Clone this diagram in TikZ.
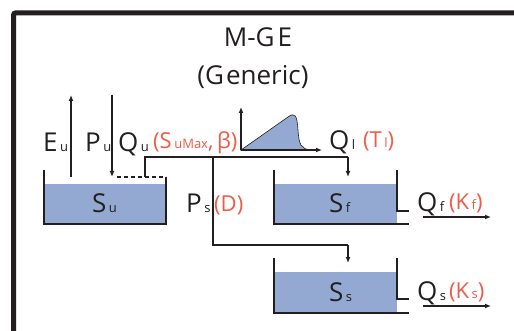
\documentclass[tikz,border=0pt]{standalone}
\usepackage{fontspec}
\setmainfont{Open Sans}
\usepackage{xcolor}
\usetikzlibrary{arrows.meta}
\definecolor{ink}  {HTML}{231F20}
\definecolor{water}{HTML}{93A9D2}
\definecolor{param}{HTML}{F05A46}
\newcommand{\bigsz}{\fontsize{26}{30}\selectfont}
\newcommand{\parsz}{\fontsize{22}{26}\selectfont}
\newcommand{\subsz}{\fontsize{13}{15}\selectfont}
\newcommand{\flux}[2]{#1\hspace{2.5pt}{\subsz #2}}

\begin{document}
\begin{tikzpicture}[
  x=1pt, y=-1pt,
  lab/.style={font=\bigsz, text=ink, anchor=base west, inner sep=0pt},
  prm/.style={font=\parsz, text=param, anchor=base west, inner sep=0pt},
  wall/.style={draw=ink, line width=1.6pt},
  pool/.style={fill=water},
  >={Latex[length=6pt,width=5pt]},
  arr/.style={->, draw=ink, line width=1.5pt},
  pipe/.style={draw=ink, line width=1.6pt}
]
\useasboundingbox (0,0) rectangle (514,331);
\draw[ink, line width=5pt, rounded corners=2pt] (13.5,345) -- (13.5,13) -- (530,13);

\node[font=\bigsz, text=ink] (title) at (258,37) {M-G\hspace{3pt}E};
\node[font=\bigsz, text=ink] (sub) at (253,77) {(G\hspace{2pt}eneric)};

\fill[pool] (44,184) rectangle (166,224);
\draw[wall] (44,170) -- (44,224) -- (166,224) -- (166,177);
\draw[wall, dashed, dash pattern=on 4pt off 3pt] (117,177) -- (166,177);
\coordinate (su-in) at (112,177);
\coordinate (su-ev) at (71,177);
\coordinate (su-out) at (145,177);

\fill[pool] (274,184) rectangle (397,224);
\draw[wall] (274,170) -- (274,224) -- (409,224);
\draw[wall] (397,170) -- (397,211) -- (409,211);
\coordinate (sf-in) at (348,177);

\fill[pool] (274,272) rectangle (397,313);
\draw[wall] (274,258) -- (274,313) -- (409,313);
\draw[wall] (397,258) -- (397,299) -- (409,299);
\coordinate (ss-in) at (348,263);

\coordinate (eu-top) at (71,95);
\coordinate (pu-top) at (112,95);
\coordinate (qu-bend) at (145,157);
\coordinate (ps-split) at (213,157);
\coordinate (qf-bend) at (348,157);
\coordinate (ps-bend) at (213,245);
\coordinate (qs-bend) at (348,245);

\coordinate (hy-o) at (241,150);
\fill[pool, draw=ink, line width=0.6pt] (hy-o) -- (288,117)
   .. controls (295,112) and (297,115) .. (298,130)
   .. controls (299,145) and (301,149) .. (311,150) -- cycle;
\draw[arr] (hy-o) -- (241,107);
\draw[arr] (hy-o) -- (322,150);

\draw[arr] (su-ev) -- (eu-top);
\draw[arr] (pu-top) -- (su-in);
\draw[pipe] (su-out) -- (qu-bend) -- (qf-bend);
\draw[arr] (qf-bend) -- (sf-in);
\draw[pipe] (ps-split) -- (ps-bend) -- (qs-bend);
\draw[arr] (qs-bend) -- (ss-in);

\coordinate (qf-a) at (423,217);
\coordinate (qf-b) at (491,217);
\coordinate (qs-a) at (423,306);
\coordinate (qs-b) at (491,306);
\draw[arr] (qf-a) -- (qf-b);
\draw[arr] (qs-a) -- (qs-b);

\node[lab] (eu) at (43,152) {\flux{E}{u}};
\node[lab] (pu) at (85,152) {\flux{P}{u}};
\node[lab] (qu) at (118,152) {\flux{Q}{u}};
\node[prm] (qu-p) at (153,149) {(\flux{S}{uMax},\,β)};
\node[lab] (ql) at (329,150) {\flux{Q}{l}};
\node[prm] (ql-p) at (363,148) {(\flux{T}{l})};
\node[lab] (su) at (92,213) {\flux{S}{u}};
\node[lab] (ps) at (186,213) {\flux{P}{s}};
\node[prm] (ps-p) at (214,212) {(D)};
\node[lab] (sf) at (329,213) {\flux{S}{f}};
\node[lab] (qf) at (417,212) {\flux{Q}{f}};
\node[prm] (qf-p) at (449,210) {(\flux{K}{f})};
\node[lab] (ss) at (329,301) {\flux{S}{s}};
\node[lab] (qs) at (417,300) {\flux{Q}{s}};
\node[prm] (qs-p) at (449,298) {(\flux{K}{s})};
\end{tikzpicture}
\end{document}
